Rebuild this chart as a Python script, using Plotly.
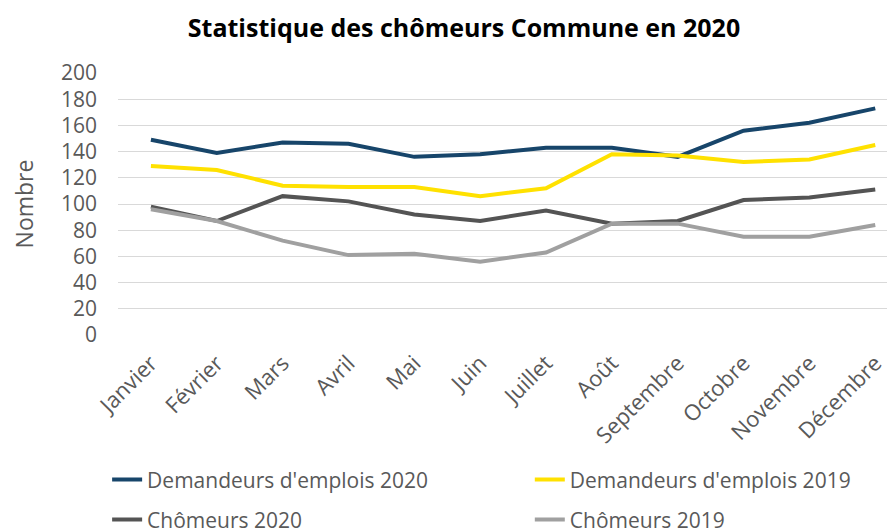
import plotly.graph_objects as go

mois = ['Janvier', 'Février', 'Mars', 'Avril', 'Mai', 'Juin', 'Juillet',
        'Août', 'Septembre', 'Octobre', 'Novembre', 'Décembre']

demandeurs_2020 = [149, 139, 147, 146, 136, 138, 143, 143, 136, 156, 162, 173]
demandeurs_2019 = [129, 126, 114, 113, 113, 106, 112, 138, 137, 132, 134, 145]
chomeurs_2020 = [98, 87, 106, 102, 92, 87, 95, 85, 87, 103, 105, 111]
chomeurs_2019 = [96, 87, 72, 61, 62, 56, 63, 85, 85, 75, 75, 84]

font = 'Open Sans'
gris = '#595959'

fig = go.Figure()

# one legend per entry so the 2x2 grid can be placed like the original
fig.add_trace(go.Scatter(x=mois, y=demandeurs_2020, mode='lines',
                         name="Demandeurs d'emplois 2020",
                         line=dict(color='#17456A', width=4), legend='legend'))
fig.add_trace(go.Scatter(x=mois, y=demandeurs_2019, mode='lines',
                         name="Demandeurs d'emplois 2019",
                         line=dict(color='#FFE100', width=4), legend='legend2'))
fig.add_trace(go.Scatter(x=mois, y=chomeurs_2020, mode='lines',
                         name='Chômeurs 2020',
                         line=dict(color='#545454', width=4), legend='legend3'))
fig.add_trace(go.Scatter(x=mois, y=chomeurs_2019, mode='lines',
                         name='Chômeurs 2019',
                         line=dict(color='#A0A0A0', width=4), legend='legend4'))

leg = dict(orientation='h', xref='paper', yref='paper',
           xanchor='left', yanchor='middle',
           font=dict(family=font, size=21, color=gris),
           bgcolor='rgba(0,0,0,0)')

# the page body adds an 8px offset, so margins are shifted by 8
fig.update_layout(
    width=895, height=530,
    showlegend=True,
    margin=dict(l=110, r=8, t=65, b=203, autoexpand=False),
    paper_bgcolor='white', plot_bgcolor='white',
    font=dict(family=font, color=gris),
    title=dict(text='<b>Statistique des chômeurs Commune en 2020</b>',
               x=0.5095, xanchor='center', y=0.962, yanchor='middle',
               font=dict(family=font, size=25, color='black')),
    xaxis=dict(range=[-0.5, 11.3], tickangle=-45, showgrid=False,
               showline=False, ticks='', automargin=False,
               ticklabelstandoff=10,
               tickfont=dict(family=font, size=22, color=gris)),
    yaxis=dict(range=[0, 200], dtick=20, showgrid=True, gridcolor='#D9D9D9',
               gridwidth=1.3, zeroline=False, showline=False,
               automargin=False, ticklabelstandoff=20,
               tickfont=dict(family=font, size=21, color=gris),
               title=dict(text='Nombre', standoff=22,
                          font=dict(family=font, size=23, color=gris))),
    legend=dict(x=-0.014, y=-0.553, **leg),
    legend2=dict(x=0.530, y=-0.553, **leg),
    legend3=dict(x=-0.014, y=-0.706, **leg),
    legend4=dict(x=0.530, y=-0.706, **leg),
)

fig.write_html('out.html')
